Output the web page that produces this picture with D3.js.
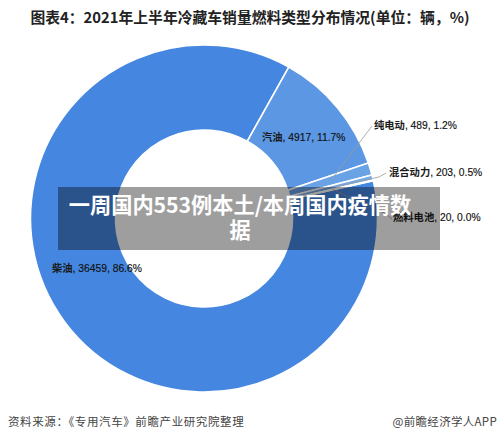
<!DOCTYPE html>
<html><head><meta charset="utf-8">
<script src="https://cdn.jsdelivr.net/npm/d3@7"></script>
<style>
html,body{margin:0;padding:0;background:#fff;}
svg{display:block;}
</style></head>
<body>
<svg id="c" width="500" height="438"></svg>
<script>
const categories = ["柴油", "汽油", "纯电动", "混合动力", "燃料电池"];
const values = [36459, 4917, 489, 203, 20];
const percents = ["86.6%", "11.7%", "1.2%", "0.5%", "0.0%"];
const colors = ["#4486e0", "#5b97e3", "#6aa2e6", "#76a9e8", "#80b0ea"];
const titleText = "图表4：2021年上半年冷藏车销量燃料类型分布情况(单位：辆，%)";
const sourceText = "资料来源：《专用汽车》前瞻产业研究院整理";
const brandText = "@前瞻经济学人APP";
const bannerLines = ["一周国内553例本土/本周国内疫情数", "据"];

const svg = d3.select("#c");
const cx = 204, cy = 218.5, R = 173.5, r0 = 88.5;
const cjk = "'Noto Sans CJK SC', 'Noto Sans', sans-serif";

svg.append("text").attr("x", 250).attr("y", 23).attr("text-anchor", "middle")
  .attr("font-family", cjk).attr("font-weight", "bold").attr("font-size", 14.8)
  .attr("fill", "#222").text(titleText);

const startDeg = 77.4;
const pie = d3.pie().sort(null).value(d => d)
  .startAngle(startDeg * Math.PI / 180).endAngle((startDeg + 360) * Math.PI / 180);
const arcs = pie(values);
const arc = d3.arc().innerRadius(r0).outerRadius(R);
const g = svg.append("g").attr("transform", `translate(${cx},${cy})`);
g.selectAll("path").data(arcs).join("path")
  .attr("d", arc).attr("fill", (d, i) => colors[i])
  .attr("stroke", "#fff").attr("stroke-width", 1.6);

const labelPos = [[52, 272], [262, 141], [374, 129], [389, 176], [393, 221]];
const leaderR = 132;
function midPt(i) {
  const a = (arcs[i].startAngle + arcs[i].endAngle) / 2;
  return [cx + leaderR * Math.sin(a), cy - leaderR * Math.cos(a)];
}
const leaders = {
  2: [[372, 126]],
  3: [[379, 177], [386, 173]],
  4: [[386, 214], [392, 219]]
};
Object.keys(leaders).forEach(k => {
  const i = +k;
  const pts = [midPt(i)].concat(leaders[k]);
  svg.append("path").attr("d", d3.line()(pts))
    .attr("fill", "none").attr("stroke", "#9a9a9a").attr("stroke-width", 0.8);
});

labelPos.forEach((p, i) => {
  const t = svg.append("text").attr("x", p[0]).attr("y", p[1])
    .attr("font-size", 10.3).attr("fill", "#1a1a1a");
  t.append("tspan").attr("font-family", cjk).attr("font-weight", "bold").text(categories[i]);
  t.append("tspan").attr("font-family", "'Liberation Sans', Arial, sans-serif")
    .attr("fill", "#111").attr("stroke", "#111").attr("stroke-width", 0.15)
    .text(", " + d3.format("d")(values[i]) + ", " + percents[i]);
});

svg.append("rect").attr("x", 58).attr("y", 187).attr("width", 382).attr("height", 63)
  .attr("fill", "rgba(0,0,0,0.38)");
bannerLines.forEach((s, i) => {
  svg.append("text").attr("x", 240).attr("y", 213 + i * 25).attr("text-anchor", "middle")
    .attr("font-family", cjk).attr("font-weight", "bold").attr("font-size", 21.2)
    .attr("fill", "#fff").text(s);
});

svg.append("text").attr("x", 8).attr("y", 426)
  .attr("font-family", cjk).attr("font-size", 11.5).attr("letter-spacing", 0.6)
  .attr("fill", "#444").text(sourceText);
svg.append("text").attr("x", 497).attr("y", 426).attr("text-anchor", "end")
  .attr("font-family", cjk).attr("font-size", 11.5).attr("letter-spacing", 0.3)
  .attr("fill", "#444").text(brandText);
</script>
</body></html>
